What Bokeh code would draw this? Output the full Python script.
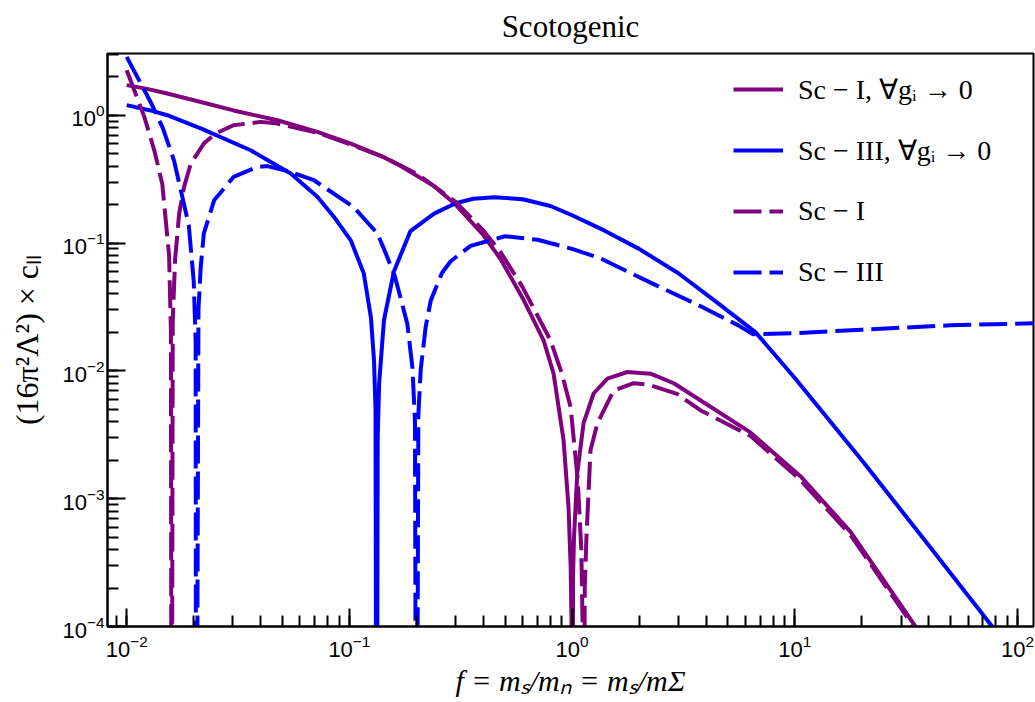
from bokeh.plotting import figure
from bokeh.models import Range1d, Legend, LegendItem
from bokeh.embed import file_html
from bokeh.resources import INLINE

# ---- data ----
# Sc-I, all g_i -> 0 (purple solid)
x_sc1_g0 = [0.010, 0.0125, 0.0152, 0.0215, 0.0302, 0.0475, 0.0718, 0.1014, 0.1426, 0.170,
            0.239, 0.30, 0.40, 0.477, 0.60, 0.745, 0.826, 0.916, 0.964, 0.985, 0.995, 1.0,
            1.01, 1.02, 1.055, 1.126, 1.249, 1.44, 1.77, 2.25, 2.86, 3.78, 6.32, 10.6, 17.8,
            34.8, 50.0]
y_sc1_g0 = [1.72, 1.60, 1.48, 1.27, 1.09, 0.914, 0.74, 0.60, 0.47, 0.40,
            0.28, 0.20, 0.115, 0.075, 0.037, 0.0173, 0.0095, 0.00285, 0.00085, 0.0003, 0.0001,
            1e-7, 0.00025, 0.0005, 0.00158, 0.0039, 0.00665, 0.0087, 0.0098, 0.0095, 0.008,
            0.00586, 0.0033, 0.0015, 0.00055, 0.0001, 0.000048]

# Sc-III, all g_i -> 0 (blue solid)
x_sc3_g0 = [0.010, 0.0128, 0.0152, 0.0215, 0.036, 0.0545, 0.0718, 0.0853, 0.1014, 0.116,
            0.125, 0.129, 0.131, 0.1325, 0.134, 0.136, 0.143, 0.1585, 0.188, 0.24, 0.30, 0.36,
            0.45, 0.60, 0.80, 1.0, 1.4, 2.0, 3.0, 4.5, 6.67, 10.0, 20.0, 40.0, 77.0, 100.0]
y_sc3_g0 = [1.2, 1.09, 1.0, 0.79, 0.532, 0.35, 0.23, 0.16, 0.105, 0.058,
            0.026, 0.012, 0.005, 1e-7, 0.003, 0.008, 0.025, 0.06, 0.124, 0.17, 0.205, 0.222,
            0.228, 0.22, 0.195, 0.165, 0.125, 0.09, 0.058, 0.034, 0.02, 0.0088, 0.002, 0.00043,
            0.0001, 0.000055]

# Sc-I (purple dashed)
x_sc1 = [0.010, 0.012, 0.0133, 0.01445, 0.0155, 0.0158, 0.0159, 0.0161, 0.0165, 0.0172,
         0.0181, 0.0194, 0.0222, 0.0251, 0.0302, 0.040, 0.0475, 0.0718, 0.1014, 0.1426, 0.20,
         0.30, 0.40, 0.477, 0.60, 0.70, 0.80, 0.90, 0.985, 1.06, 1.10, 1.115, 1.12, 1.14,
         1.16, 1.21, 1.30, 1.535, 1.89, 2.2, 2.96, 3.78, 6.32, 10.6, 17.8, 34.8, 50.0]
y_sc1 = [2.25, 0.97, 0.532, 0.29, 0.08, 0.02, 1e-7, 0.025, 0.075, 0.17,
         0.275, 0.419, 0.60, 0.72, 0.835, 0.887, 0.86, 0.73, 0.59, 0.47, 0.35,
         0.21, 0.125, 0.085, 0.045, 0.027, 0.0173, 0.0095, 0.0052, 0.0014, 0.0004, 0.0001, 1e-7,
         0.0002, 0.0005, 0.0024, 0.0039, 0.007, 0.008, 0.0078, 0.0066, 0.0049, 0.0031, 0.0014,
         0.00052, 0.000095, 0.000046]

# Sc-III (blue dashed)
x_sc3 = [0.010, 0.0128, 0.0145, 0.0163, 0.019, 0.020, 0.0204, 0.0205, 0.0210, 0.0215, 0.0222,
         0.0247, 0.0302, 0.0386, 0.0428, 0.0545, 0.0693, 0.1045, 0.1335, 0.143, 0.160, 0.182,
         0.192, 0.197, 0.200, 0.204, 0.209, 0.22, 0.232, 0.26, 0.285, 0.35, 0.50, 0.70, 1.0,
         1.34, 2.25, 3.78, 5.6, 6.5, 10.0, 20.0, 50.0, 118.0]
y_sc3 = [2.86, 1.27, 0.80, 0.444, 0.138, 0.05, 0.017, 1e-7, 0.03, 0.065, 0.119,
         0.216, 0.329, 0.394, 0.40, 0.36, 0.31, 0.191, 0.119, 0.09, 0.055, 0.0234,
         0.0105, 0.004, 1e-7, 0.0045, 0.0102, 0.022, 0.0356, 0.058, 0.072, 0.095, 0.113, 0.106,
         0.09, 0.076, 0.049, 0.032, 0.0226, 0.0193, 0.0197, 0.021, 0.0227, 0.0236]

labels = ["Sc − I, ∀gᵢ → 0", "Sc − III, ∀gᵢ → 0", "Sc − I", "Sc − III"]
title_text = "Scotogenic"
x_label_text = "f = mₛ/mₙ = mₛ/mΣ"
y_label_text = "(16π²Λ²) × cₗₗ"
PURPLE = "#800080"
BLUE = "#0000ff"
DASH = "28 8"

p = figure(width=1035, height=702, x_axis_type="log", y_axis_type="log",
           x_range=Range1d(0.0082, 118), y_range=Range1d(1e-4, 3.04),
           output_backend="svg", toolbar_location=None,
           min_border_left=107, min_border_right=2, min_border_top=53, min_border_bottom=76)

p.title.text = title_text
p.title.align = "center"
p.title.vertical_align = "top"
p.title.text_font = "Liberation Serif"
p.title.text_font_size = "31px"
p.title.text_font_style = "normal"
p.title.text_color = "black"
p.title.standoff = 16

p.grid.visible = False
p.outline_line_color = "black"
p.outline_line_width = 2
p.outline_line_alpha = 1.0
p.background_fill_color = "white"
p.border_fill_color = "white"

for ax in (p.xaxis[0], p.yaxis[0]):
    ax.major_tick_in = 18
    ax.major_tick_out = 0
    ax.minor_tick_in = 11
    ax.minor_tick_out = 0
    ax.axis_line_width = 2
    ax.axis_line_color = "black"
    ax.major_tick_line_width = 2
    ax.minor_tick_line_width = 2
    ax.major_tick_line_color = "black"
    ax.minor_tick_line_color = "black"
    ax.major_label_text_font = "Liberation Sans"
    ax.major_label_text_font_size = "22px"
    ax.major_label_text_color = "black"
    ax.axis_label_text_font = "Liberation Serif"
    ax.axis_label_text_color = "black"

p.xaxis.major_label_standoff = 8
p.yaxis.major_label_standoff = 3
p.xaxis.axis_label = x_label_text
p.xaxis.axis_label_text_font_size = "30px"
p.xaxis.axis_label_text_font_style = "italic"
p.xaxis.axis_label_standoff = 4
p.yaxis.axis_label = y_label_text
p.yaxis.axis_label_text_font_size = "32px"
p.yaxis.axis_label_text_font_style = "normal"
p.yaxis.axis_label_standoff = 14

r1 = p.line(x_sc1_g0, y_sc1_g0, line_color=PURPLE, line_width=4)
r2 = p.line(x_sc3_g0, y_sc3_g0, line_color=BLUE, line_width=4)
r3 = p.line(x_sc1, y_sc1, line_color=PURPLE, line_width=4, line_dash=DASH)
r4 = p.line(x_sc3, y_sc3, line_color=BLUE, line_width=4, line_dash=DASH)

legend = Legend(items=[LegendItem(label=labels[0], renderers=[r1]),
                       LegendItem(label=labels[1], renderers=[r2]),
                       LegendItem(label=labels[2], renderers=[r3]),
                       LegendItem(label=labels[3], renderers=[r4])],
                location=(619, 325))
legend.border_line_alpha = 0
legend.background_fill_alpha = 0
legend.label_text_font = "Liberation Serif"
legend.label_text_font_size = "28px"
legend.label_text_color = "black"
legend.glyph_width = 50
legend.glyph_height = 44
legend.label_height = 44
legend.label_standoff = 15
legend.spacing = 17
legend.margin = 0
legend.padding = 7
p.add_layout(legend)

open("out.html", "w").write(file_html(p, INLINE))
